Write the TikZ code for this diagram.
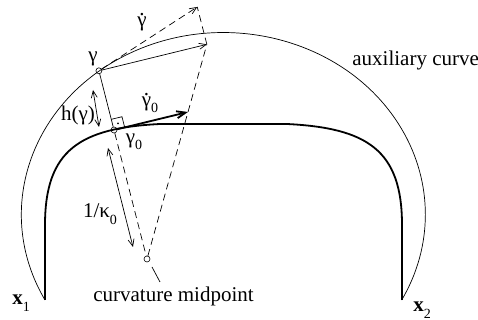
\documentclass[tikz,border=0pt]{standalone}
\usepackage{fontspec}
\setmainfont{Liberation Serif}
\newfontfamily\lblfont{Liberation Serif}
\usetikzlibrary{calc,arrows.meta}
\newcommand{\dotg}{\rlap{\hspace{0.09em}\raisebox{0.5em}{.}}γ}
\newcommand{\subs}[1]{\raisebox{-0.3em}{\fontsize{14}{14}\selectfont #1}}
\begin{document}
\begin{tikzpicture}[x=1pt,y=1pt,line width=0.7pt,
  >={Straight Barb[length=7pt,width=6pt]},
  lbl/.style={inner sep=0pt,font=\lblfont\fontsize{21}{25}\selectfont},
  dsh/.style={dash pattern=on 7pt off 4.5pt},
  pt/.style={draw,circle,inner sep=0pt,minimum size=6pt,line width=0.6pt}]
  \useasboundingbox (0,0) rectangle (478,320);
  % points of the construction
  \coordinate (x1) at (45,20);
  \coordinate (x2) at (402,20);
  \node[pt] (g0) at (114,190) {};
  \node[pt] (g) at (98.9,249.2) {};
  \node[pt] (cm) at (147,61) {};
  \coordinate (t0) at (188,208);
  \coordinate (t) at ($(cm)!1.46!(t0)$);
  \coordinate (gd) at ($(t)+(-9.6,37.4)$);
  % curves
  \draw[line width=1.8pt] (x1) -- (45,95) .. controls (45,170) and (80,192) .. (160,196)
    -- (287,196) .. controls (367,192) and (402,170) .. (402,95) -- (x2);
  \draw (x1) arc[start angle=208,end angle=-28,x radius=202,y radius=182];
  % normal and tangents
  \draw (g) -- (g0);
  \draw[dsh] (g0) -- (cm);
  \draw[dsh] (cm) -- (t);
  \draw[dsh] (t) -- (gd);
  \draw[dsh,->] (g) -- (gd);
  \draw[->] (g) -- (t);
  \draw[-{Straight Barb[length=9pt,width=7pt]},line width=1.8pt] (g0) -- (t0);
  % right angle
  \coordinate (ra1) at ($(g0.center)!11pt!(t0)$);
  \coordinate (ra3) at ($(g0.center)!11pt!(g.center)$);
  \coordinate (ra2) at ($(ra1)+(ra3)-(g0.center)$);
  \draw (ra1) -- (ra2) -- (ra3);
  \fill ($(g0.center)!0.5!(ra2)$) circle (0.9pt);
  % distances
  \coordinate (ha) at (93,230);
  \coordinate (hb) at (99,193);
  \draw[<->] (ha) -- (hb);
  \coordinate (ka) at (108,172);
  \coordinate (kb) at (133,73);
  \draw[<->] (ka) -- (kb);
  \coordinate (ld1) at (152,53);
  \coordinate (ld2) at (160,38);
  \draw (ld1) -- (ld2);
  % labels
  \node[lbl] (lg) at (93,261) {γ};
  \node[lbl] (lgd) at (142,298) {\dotg};
  \node[lbl] (lgd0) at (150,217) {\dotg\subs{0}};
  \node[lbl] (lg0) at (134,178) {γ\subs{0}};
  \node[lbl] (lh) at (78,205) {h(γ)};
  \node[lbl] (lk) at (100,106) {1/κ\subs{0}};
  \node[lbl,anchor=base west] (laux) at (352,254) {auxiliary curve};
  \node[lbl,anchor=base west] (lcm) at (93,18) {curvature midpoint};
  \node[lbl,anchor=base west] (lx1) at (12,15) {\textbf{x}\subs{1}};
  \node[lbl,anchor=base west] (lx2) at (413,8) {\textbf{x}\subs{2}};
\end{tikzpicture}
\end{document}
